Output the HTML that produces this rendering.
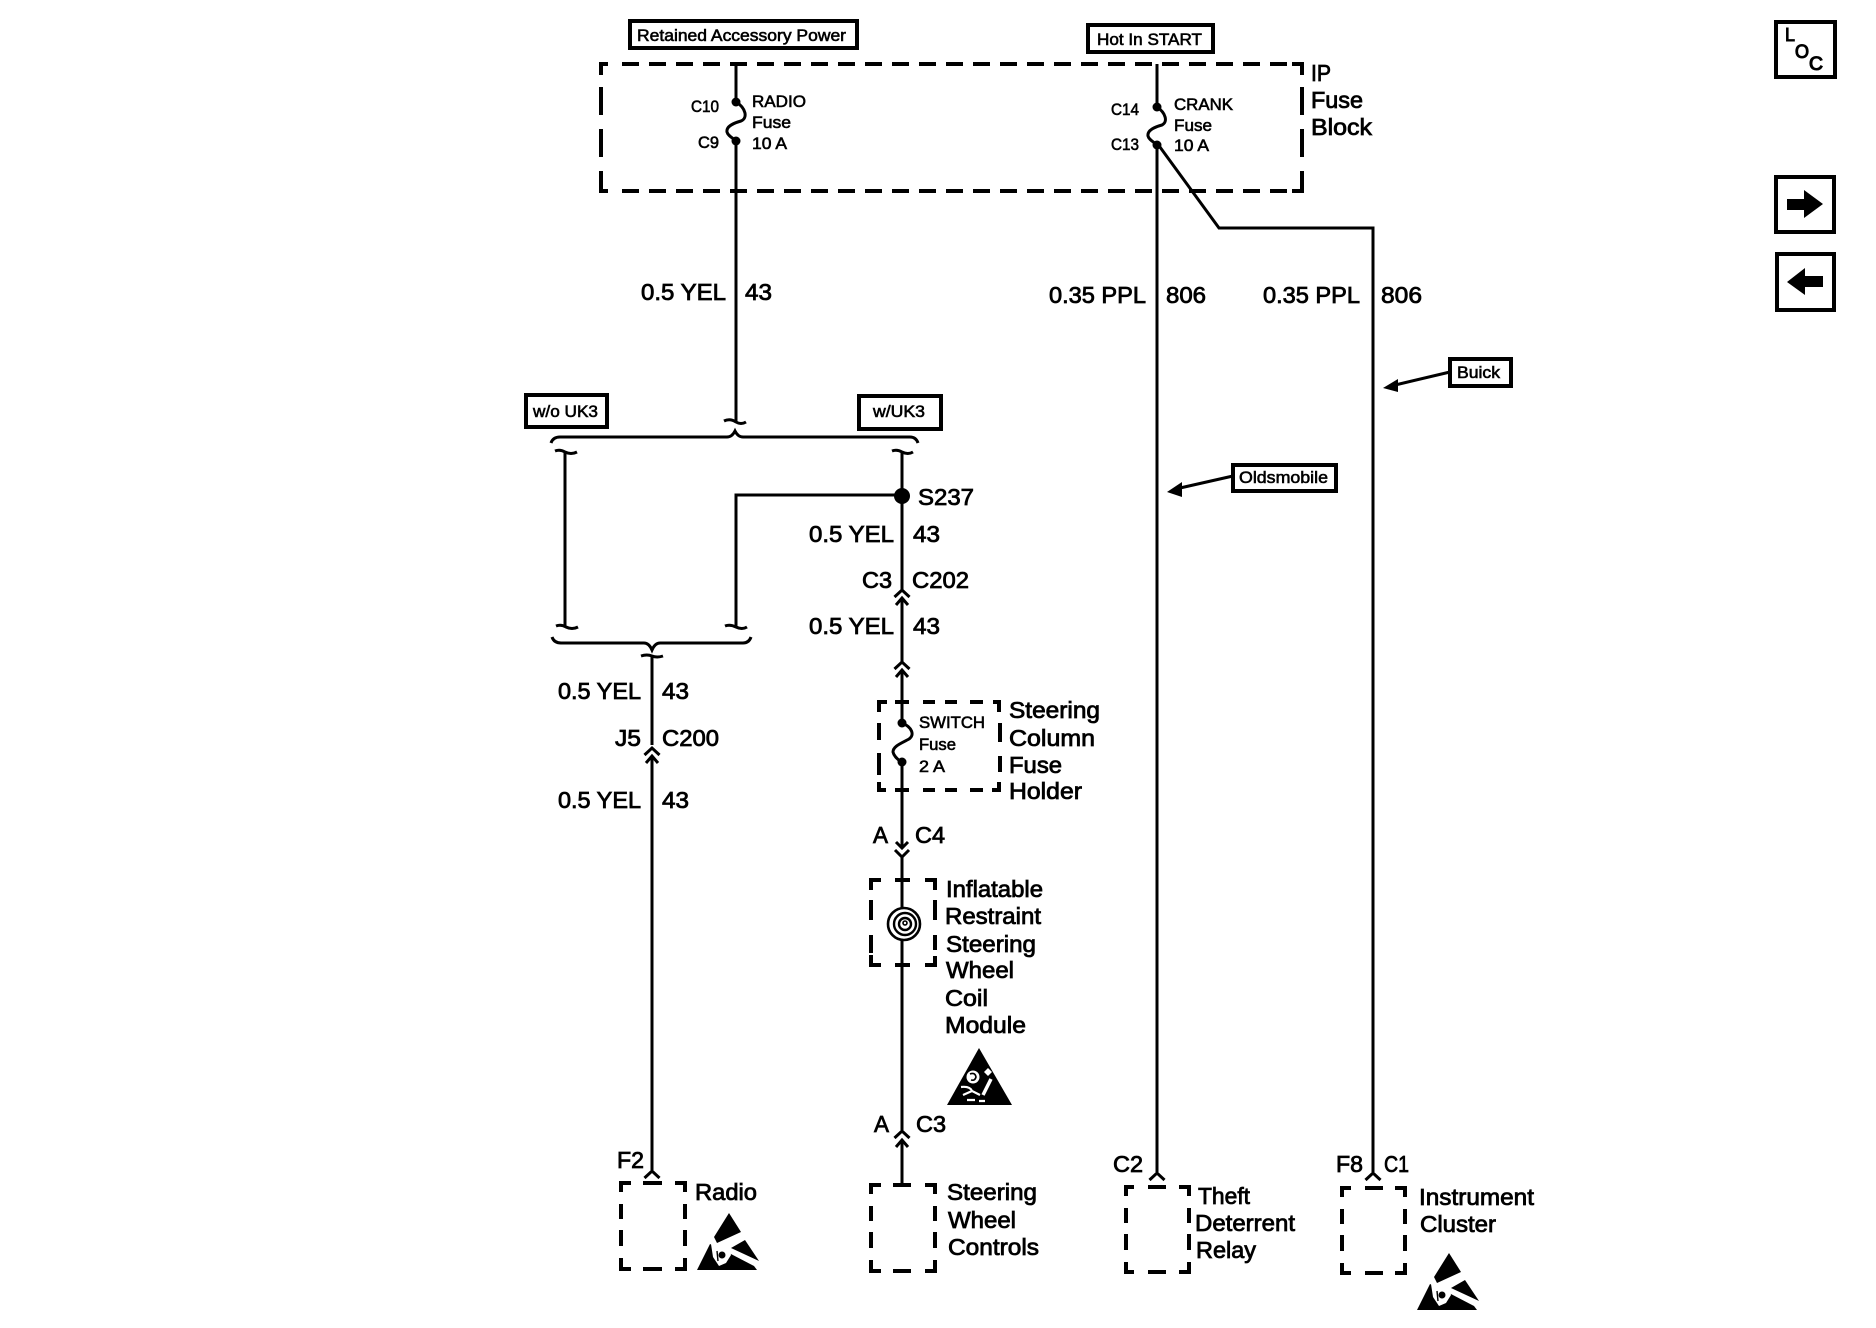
<!DOCTYPE html>
<html><head><meta charset="utf-8"><style>
html,body{margin:0;padding:0;background:#fff;width:1876px;height:1328px;overflow:hidden}
svg{display:block}
text{font-family:"Liberation Sans",Arial,sans-serif;fill:#000;stroke:#000;stroke-width:.8px}
.b{font-size:23.5px}.s{font-size:17px}.w{stroke-width:.6px}
.l{fill:none;stroke:#000;stroke-width:3}
.d{fill:none;stroke:#000;stroke-width:4}
.t{fill:none;stroke:#000;stroke-width:3}
.f{fill:#000;stroke:none}
.n{fill:none;stroke:#fff}
.bx{fill:#fff;stroke:#000;stroke-width:4}
</style></head><body>
<svg width="1876" height="1328" viewBox="0 0 1876 1328" xmlns="http://www.w3.org/2000/svg">
<rect width="1876" height="1328" fill="#fff"/>
<defs>
<g id="esd">
<polygon class="f" points="32,0 44,19 20,30 17,24"/>
<polygon class="f" points="48,27 62,48 34,35"/>
<polygon class="f" points="13,31 0,57 60,57 57,53 32,40"/>
<polygon fill="#fff" points="14,31 33,38 34,42 29,50 22,53 16,44"/>
<circle class="f" cx="25" cy="42" r="3.5"/>
<path fill="none" stroke="#000" stroke-width="1.4" d="M20,38 L21,48"/>
</g>
</defs>

<!-- top labels -->
<rect class="bx" x="630" y="21" width="227" height="27"/>
<text class="s w" x="637" y="41" textLength="209" lengthAdjust="spacingAndGlyphs">Retained Accessory Power</text>
<rect class="bx" x="1088" y="25" width="125" height="27"/>
<text class="s w" x="1097" y="45" textLength="105" lengthAdjust="spacingAndGlyphs">Hot In START</text>

<!-- IP fuse block dashed -->
<path class="d" stroke-dasharray="17 10" d="M622,64 H1290"/>
<path class="d" stroke-dasharray="17 10" d="M622,191 H1290"/>
<path class="d" d="M601,75 V64 H608 M1292,64 H1302 V75 M601,180 V191 H608 M1292,191 H1302 V180"/>
<path class="d" stroke-dasharray="28 14" d="M601,87 V180"/>
<path class="d" stroke-dasharray="28 14" d="M1302,87 V180"/>

<!-- wire 1 -->
<path class="l" d="M736,64 V102"/>
<path class="t" d="M736,102 C746,108 748,118 741,121 C734,123 726,126 727,132 C728,136 733,138 736,141"/>
<path class="l" d="M736,141 V423"/>
<circle class="f" cx="736" cy="102" r="4.5"/><circle class="f" cx="736" cy="141" r="4.5"/>
<path class="t" d="M724,421 Q730,418 736,422 Q741,425 746,422"/>

<!-- wire 2 & 3 -->
<path class="l" d="M1157,64 V107"/>
<path class="t" d="M1157,107 C1166,113 1168,122 1162,125 C1155,127 1147,130 1148,136 C1149,140 1154,142 1157,145"/>
<path class="l" d="M1157,145 V1172"/>
<circle class="f" cx="1157" cy="107" r="4.5"/><circle class="f" cx="1157" cy="145" r="4.5"/>
<path class="l" d="M1157,143 L1219,228 H1373 V1172"/>

<!-- fuse texts -->
<text class="s w" x="691" y="112" textLength="28" lengthAdjust="spacingAndGlyphs">C10</text>
<text class="s w" x="698" y="148" textLength="21" lengthAdjust="spacingAndGlyphs">C9</text>
<text class="s w" x="752" y="107" textLength="54" lengthAdjust="spacingAndGlyphs">RADIO</text>
<text class="s w" x="752" y="128" textLength="39" lengthAdjust="spacingAndGlyphs">Fuse</text>
<text class="s w" x="752" y="149" textLength="35" lengthAdjust="spacingAndGlyphs">10 A</text>
<text class="s w" x="1111" y="115" textLength="28" lengthAdjust="spacingAndGlyphs">C14</text>
<text class="s w" x="1111" y="150" textLength="28" lengthAdjust="spacingAndGlyphs">C13</text>
<text class="s w" x="1174" y="110" textLength="59" lengthAdjust="spacingAndGlyphs">CRANK</text>
<text class="s w" x="1174" y="131" textLength="38" lengthAdjust="spacingAndGlyphs">Fuse</text>
<text class="s w" x="1174" y="151" textLength="35" lengthAdjust="spacingAndGlyphs">10 A</text>
<text class="b" x="1311" y="81" textLength="20" lengthAdjust="spacingAndGlyphs">IP</text>
<text class="b" x="1311" y="108" textLength="52" lengthAdjust="spacingAndGlyphs">Fuse</text>
<text class="b" x="1311" y="135" textLength="61" lengthAdjust="spacingAndGlyphs">Block</text>

<!-- wire labels top -->
<text class="b" x="641" y="300" textLength="85" lengthAdjust="spacingAndGlyphs">0.5 YEL</text>
<text class="b" x="745" y="300" textLength="27" lengthAdjust="spacingAndGlyphs">43</text>
<text class="b" x="1049" y="303" textLength="97" lengthAdjust="spacingAndGlyphs">0.35 PPL</text>
<text class="b" x="1166" y="303" textLength="40" lengthAdjust="spacingAndGlyphs">806</text>
<text class="b" x="1263" y="303" textLength="97" lengthAdjust="spacingAndGlyphs">0.35 PPL</text>
<text class="b" x="1381" y="303" textLength="41" lengthAdjust="spacingAndGlyphs">806</text>

<!-- Buick / Oldsmobile -->
<rect class="bx" x="1450" y="359" width="61" height="27"/>
<text class="s w" x="1457" y="378" textLength="43" lengthAdjust="spacingAndGlyphs">Buick</text>
<path class="l" d="M1450,372 L1395,385"/>
<polygon class="f" points="1383,388 1398,379 1398,392"/>
<rect class="bx" x="1233" y="465" width="103" height="26"/>
<text class="s w" x="1239" y="483" textLength="89" lengthAdjust="spacingAndGlyphs">Oldsmobile</text>
<path class="l" d="M1233,476 L1180,488"/>
<polygon class="f" points="1167,492 1182,482 1182,497"/>

<!-- option labels -->
<rect class="bx" x="526" y="395" width="81" height="32"/>
<text class="s w" x="533" y="417" textLength="65" lengthAdjust="spacingAndGlyphs">w/o UK3</text>
<rect class="bx" x="859" y="396" width="82" height="33"/>
<text class="s w" x="873" y="417" textLength="52" lengthAdjust="spacingAndGlyphs">w/UK3</text>

<!-- upper brace -->
<path class="t" d="M551,443 Q553,437 560,437 H727 Q732,437 735,431 Q738,437 743,437 H910 Q916,437 918,443"/>
<!-- w/o UK3 jumper -->
<path class="t" d="M555,451 Q560,449 565,452 Q571,455 577,452"/>
<path class="l" d="M565,452 V627"/>
<path class="t" d="M556,626 Q561,624 566,627 Q572,630 578,627"/>
<!-- w/UK3 -->
<path class="t" d="M892,451 Q897,449 902,452 Q908,455 913,452"/>
<path class="l" d="M902,452 V590"/>
<circle class="f" cx="902" cy="496" r="8"/>
<path class="l" d="M902,495 H736 V627"/>
<path class="t" d="M725,626 Q730,624 736,627 Q742,630 747,627"/>
<!-- lower brace -->
<path class="t" d="M552,637 Q554,643 561,643 H644 Q649,643 652,650 Q655,643 660,643 H743 Q749,643 751,637"/>
<path class="t" d="M641,656 Q647,654 652,656 Q657,658 663,656"/>
<path class="l" d="M652,656 V745"/>

<text class="b" x="918" y="505" textLength="56" lengthAdjust="spacingAndGlyphs">S237</text>
<text class="b" x="809" y="542" textLength="85" lengthAdjust="spacingAndGlyphs">0.5 YEL</text>
<text class="b" x="913" y="542" textLength="27" lengthAdjust="spacingAndGlyphs">43</text>
<text class="b" x="862" y="588" textLength="30" lengthAdjust="spacingAndGlyphs">C3</text>
<text class="b" x="912" y="588" textLength="57" lengthAdjust="spacingAndGlyphs">C202</text>
<text class="b" x="809" y="634" textLength="85" lengthAdjust="spacingAndGlyphs">0.5 YEL</text>
<text class="b" x="913" y="634" textLength="27" lengthAdjust="spacingAndGlyphs">43</text>
<text class="b" x="558" y="699" textLength="83" lengthAdjust="spacingAndGlyphs">0.5 YEL</text>
<text class="b" x="662" y="699" textLength="27" lengthAdjust="spacingAndGlyphs">43</text>
<text class="b" x="615" y="746" textLength="26" lengthAdjust="spacingAndGlyphs">J5</text>
<text class="b" x="662" y="746" textLength="57" lengthAdjust="spacingAndGlyphs">C200</text>
<text class="b" x="558" y="808" textLength="83" lengthAdjust="spacingAndGlyphs">0.5 YEL</text>
<text class="b" x="662" y="808" textLength="27" lengthAdjust="spacingAndGlyphs">43</text>

<!-- left wire -->
<path class="t" d="M644.5,755 L652,748 L659.5,755"/>
<path class="t" d="M646,763 L652,756 L658,763"/>
<path class="l" d="M652,757 V1170"/>
<text class="b" x="617" y="1168" textLength="27" lengthAdjust="spacingAndGlyphs">F2</text>
<path class="t" d="M644.5,1178 L652,1171 L659.5,1178"/>

<!-- centre wire -->
<path class="t" d="M894.5,597 L902,590 L909.5,597"/>
<path class="t" d="M896,605 L902,598 L908,605"/>
<path class="l" d="M902,598 V662"/>
<path class="t" d="M894.5,669 L902,662 L909.5,669"/>
<path class="t" d="M896,677 L902,670 L908,677"/>
<path class="l" d="M902,670 V723"/>
<path class="t" d="M902,723 C912,727 915,735 909,739 C902,743 893,746 893,752 C894,757 899,760 902,763"/>
<path class="l" d="M902,763 V846"/>
<circle class="f" cx="902" cy="723" r="4.5"/><circle class="f" cx="902" cy="762" r="4.5"/>
<path class="t" d="M896,842 L902,848 L908,842"/>
<path class="t" d="M895,850 L902,857 L909,850"/>
<path class="l" d="M902,857 V907"/>

<!-- steering column fuse holder -->
<path class="d" d="M879,712 V702 H887 M895,702 H909 M923,702 H935 M945,702 H957 M970,702 H983 M993,702 H999 V712 M879,723 V740 M879,753 V775 M879,782 V790 H886 M895,790 H909 M923,790 H935 M945,790 H957 M970,790 H983 M992,790 H999 V782 M1000,723 V742 M1000,756 V772"/>
<text class="b" x="1009" y="718" textLength="91" lengthAdjust="spacingAndGlyphs">Steering</text>
<text class="b" x="1009" y="746" textLength="86" lengthAdjust="spacingAndGlyphs">Column</text>
<text class="b" x="1009" y="773" textLength="53" lengthAdjust="spacingAndGlyphs">Fuse</text>
<text class="b" x="1009" y="799" textLength="73" lengthAdjust="spacingAndGlyphs">Holder</text>
<text class="s w" x="919" y="728" textLength="66" lengthAdjust="spacingAndGlyphs">SWITCH</text>
<text class="s w" x="919" y="750" textLength="37" lengthAdjust="spacingAndGlyphs">Fuse</text>
<text class="s w" x="919" y="772" textLength="26" lengthAdjust="spacingAndGlyphs">2 A</text>
<text class="b" x="873" y="843" textLength="15" lengthAdjust="spacingAndGlyphs">A</text>
<text class="b" x="915" y="843" textLength="30" lengthAdjust="spacingAndGlyphs">C4</text>

<!-- inflatable restraint -->
<path class="d" d="M871,890 V880 H881 M895,880 H910 M925,880 H935 V890 M871,900 V920 M871,935 V953 M871,955 V965 H881 M895,965 H910 M925,965 H935 V956 M935,900 V920 M935,935 V950"/>
<path class="l" d="M902,856 V908"/>
<circle cx="904" cy="924" r="16" fill="#fff" stroke="#000" stroke-width="2.6"/>
<circle cx="905" cy="924" r="11" fill="none" stroke="#000" stroke-width="2.4"/>
<circle cx="905" cy="924" r="6" fill="none" stroke="#000" stroke-width="2.4"/>
<circle cx="905" cy="923" r="2" fill="none" stroke="#000" stroke-width="1.6"/>
<path class="l" d="M902,940 V1130"/>
<text class="b" x="946" y="897" textLength="97" lengthAdjust="spacingAndGlyphs">Inflatable</text>
<text class="b" x="945" y="924" textLength="96" lengthAdjust="spacingAndGlyphs">Restraint</text>
<text class="b" x="946" y="952" textLength="90" lengthAdjust="spacingAndGlyphs">Steering</text>
<text class="b" x="946" y="978" textLength="68" lengthAdjust="spacingAndGlyphs">Wheel</text>
<text class="b" x="945" y="1006" textLength="43" lengthAdjust="spacingAndGlyphs">Coil</text>
<text class="b" x="945" y="1033" textLength="81" lengthAdjust="spacingAndGlyphs">Module</text>
<polygon class="f" points="979,1048 1012,1105 947,1105"/>
<circle cx="973" cy="1077" r="6.5" fill="#fff"/>
<path fill="none" stroke="#000" stroke-width="1.6" d="M970,1074 Q975,1072 976,1077 Q975,1081 971,1080"/>
<polygon fill="#fff" points="988,1068 992,1072 988,1076 984,1072"/>
<path class="n" stroke-width="3.5" d="M991,1079 L983,1095"/>
<path class="n" stroke-width="2.2" d="M961,1087 Q970,1086 972,1091 L980,1095 M963,1095 L972,1091 M967,1100 H975 M979,1101 H985"/>

<text class="b" x="874" y="1132" textLength="15" lengthAdjust="spacingAndGlyphs">A</text>
<text class="b" x="916" y="1132" textLength="30" lengthAdjust="spacingAndGlyphs">C3</text>
<path class="t" d="M894.5,1138 L902,1131 L909.5,1138"/>
<path class="t" d="M896,1147 L902,1140 L908,1147"/>
<path class="l" d="M902,1141 V1184"/>

<!-- radio -->
<path class="d" d="M621,1192 V1183 H631 M643,1183 H662 M675,1183 H685 V1192 M621,1204 V1219 M621,1230 V1246 M621,1258 V1269 H631 M643,1269 H662 M675,1269 H685 V1258 M685,1204 V1219 M685,1230 V1246"/>
<text class="b" x="695" y="1200" textLength="62" lengthAdjust="spacingAndGlyphs">Radio</text>
<use href="#esd" x="697" y="1213"/>

<!-- steering wheel controls -->
<path class="d" d="M871,1194 V1185 H881 M893,1185 H911 M925,1185 H935 V1194 M871,1206 V1221 M871,1232 V1248 M871,1260 V1271 H881 M893,1271 H911 M925,1271 H935 V1260 M935,1206 V1221 M935,1232 V1248"/>
<text class="b" x="947" y="1200" textLength="90" lengthAdjust="spacingAndGlyphs">Steering</text>
<text class="b" x="948" y="1228" textLength="68" lengthAdjust="spacingAndGlyphs">Wheel</text>
<text class="b" x="948" y="1255" textLength="91" lengthAdjust="spacingAndGlyphs">Controls</text>

<!-- theft -->
<text class="b" x="1113" y="1172" textLength="30" lengthAdjust="spacingAndGlyphs">C2</text>
<path class="t" d="M1149.5,1180 L1157,1173 L1164.5,1180"/>
<path class="d" d="M1126,1196 V1187 H1134 M1148,1187 H1166 M1179,1187 H1189 V1196 M1126,1208 V1223 M1126,1234 V1250 M1126,1262 V1272 H1134 M1148,1272 H1166 M1179,1272 H1189 V1262 M1189,1208 V1223 M1189,1234 V1250"/>
<text class="b" x="1198" y="1204" textLength="52" lengthAdjust="spacingAndGlyphs">Theft</text>
<text class="b" x="1195" y="1231" textLength="100" lengthAdjust="spacingAndGlyphs">Deterrent</text>
<text class="b" x="1196" y="1258" textLength="60" lengthAdjust="spacingAndGlyphs">Relay</text>

<!-- instrument -->
<text class="b" x="1336" y="1172" textLength="27" lengthAdjust="spacingAndGlyphs">F8</text>
<text class="b" x="1384" y="1172" textLength="25" lengthAdjust="spacingAndGlyphs">C1</text>
<path class="t" d="M1365.5,1180 L1373,1173 L1380.5,1180"/>
<path class="d" d="M1342,1197 V1188 H1351 M1365,1188 H1383 M1395,1188 H1405 V1197 M1342,1209 V1224 M1342,1235 V1251 M1342,1263 V1273 H1351 M1365,1273 H1383 M1395,1273 H1405 V1263 M1405,1209 V1224 M1405,1235 V1251"/>
<text class="b" x="1419" y="1205" textLength="115" lengthAdjust="spacingAndGlyphs">Instrument</text>
<text class="b" x="1420" y="1232" textLength="76" lengthAdjust="spacingAndGlyphs">Cluster</text>
<use href="#esd" x="1417" y="1253"/>

<!-- LOC and nav -->
<rect class="bx" x="1776" y="22" width="59" height="55"/>
<text x="1785" y="41" font-size="18" textLength="10" lengthAdjust="spacingAndGlyphs" style="stroke-width:.9px">L</text>
<text x="1795" y="58" font-size="19" textLength="14" lengthAdjust="spacingAndGlyphs" style="stroke-width:1.1px">O</text>
<text x="1809" y="70" font-size="19" textLength="14" lengthAdjust="spacingAndGlyphs" style="stroke-width:1.1px">C</text>
<rect class="bx" x="1776" y="177" width="58" height="55"/>
<polygon class="f" points="1823,204 1804,190 1804,199 1787,199 1787,210 1804,210 1804,218"/>
<rect class="bx" x="1777" y="254" width="57" height="56"/>
<polygon class="f" points="1787,282 1805,268 1805,276 1823,276 1823,287 1805,287 1805,295"/>
</svg>
</body></html>
